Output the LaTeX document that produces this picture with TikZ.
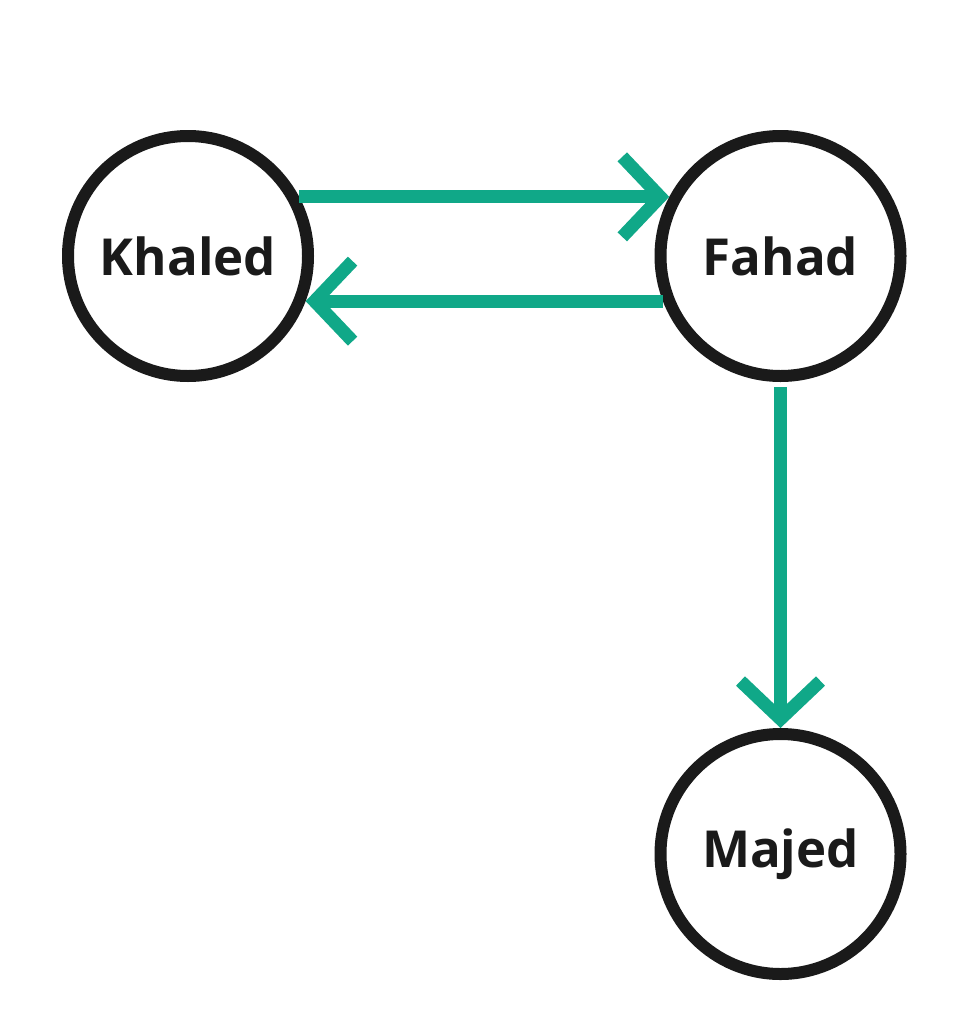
\documentclass[tikz,border=0pt]{standalone}
\usepackage{fontspec}
\setmainfont{Open Sans}
\usetikzlibrary{arrows.meta}
\definecolor{edgegreen}{RGB}{16,168,136}
\definecolor{ringblack}{RGB}{26,26,26}
\begin{document}
\begin{tikzpicture}[x=1pt,y=-1pt,
  person/.style={circle,draw=ringblack,line width=12pt,minimum size=240pt,inner sep=0pt,
    font=\fontsize{51}{60}\selectfont\bfseries,text=ringblack},
  link/.style={draw=edgegreen,line width=13pt,
    -{Straight Barb[length=38pt,width=80pt,line width=13pt]}}]
\useasboundingbox[fill=white] (0,0) rectangle (971,1028);
\node[person] (K) at (188,256) {Khaled};
\node[person] (F) at (780.5,256) {Fahad};
\node[person] (M) at (780.5,854) {Majed};
\draw[link] (K.28) -- (F.152);
\draw[link] (F.201) -- (K.-21);
\draw[link] ([yshift=-5pt]F.south) -- (M.north);
\end{tikzpicture}
\end{document}
